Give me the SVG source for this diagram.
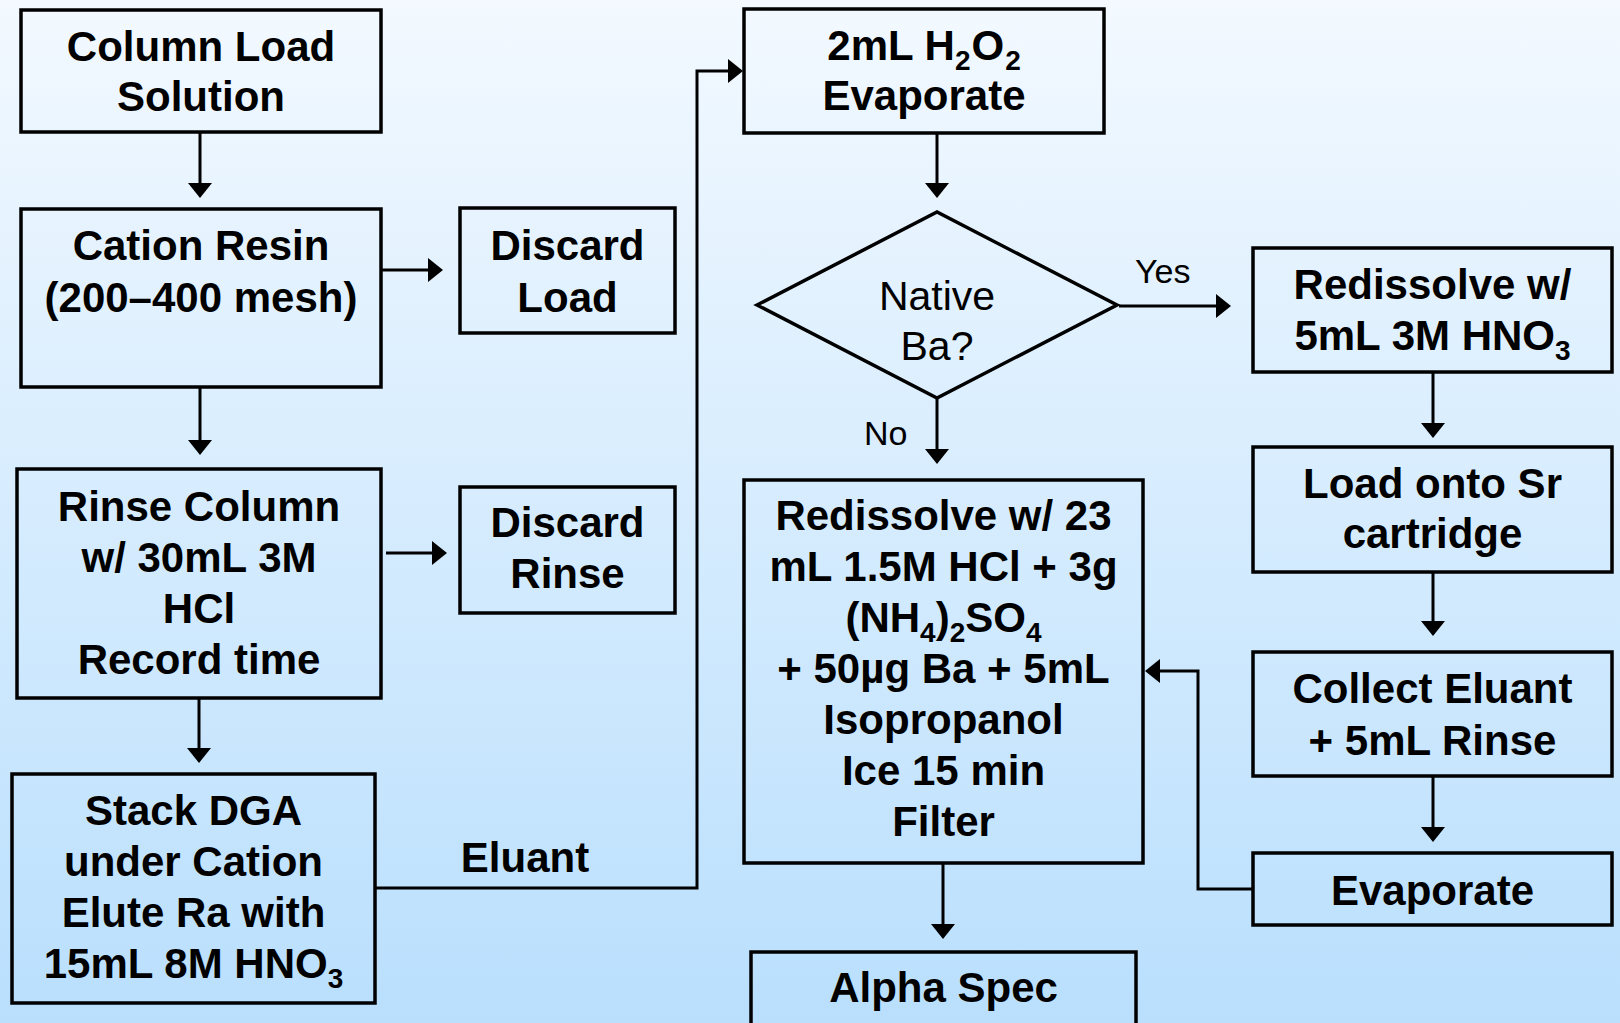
<svg xmlns="http://www.w3.org/2000/svg" width="1620" height="1023" viewBox="0 0 1620 1023">
  <defs>
    <linearGradient id="bg" x1="0" y1="0" x2="0" y2="1">
      <stop offset="0" stop-color="#f3f9ff"/>
      <stop offset="1" stop-color="#b9dffd"/>
    </linearGradient>
    <marker id="arr" markerUnits="userSpaceOnUse" markerWidth="16" markerHeight="26" refX="5" refY="12" orient="auto">
      <path d="M0,0 L15,12 L0,24 z" fill="#000"/>
    </marker>
    <style>
      .box { fill: none; stroke: #000; stroke-width: 3.5; }
      .t { font-family: "Liberation Sans", Arial, sans-serif; font-size: 42px; font-weight: bold; fill: #000; text-anchor: middle; }
      .n { font-family: "Liberation Sans", Arial, sans-serif; font-size: 41px; font-weight: normal; fill: #000; text-anchor: middle; }
      .s { font-family: "Liberation Sans", Arial, sans-serif; font-size: 34px; font-weight: normal; fill: #000; }
      .sub { font-size: 28px; }
      .c { fill: none; stroke: #000; stroke-width: 3; marker-end: url(#arr); }
    </style>
  </defs>
  <rect x="0" y="0" width="1620" height="1023" fill="url(#bg)"/>

  <g id="connectors">
    <line class="c" x1="200" y1="132" x2="200" y2="188"/>
    <line class="c" x1="381" y1="270" x2="433" y2="270"/>
    <line class="c" x1="200" y1="388" x2="200" y2="445"/>
    <line class="c" x1="386" y1="553" x2="437" y2="553"/>
    <line class="c" x1="199" y1="698" x2="199" y2="753"/>
    <path class="c" d="M375,888 H697 V71 H733"/>
    <line class="c" x1="937" y1="133" x2="937" y2="188"/>
    <line class="c" x1="937" y1="398" x2="937" y2="454"/>
    <line class="c" x1="1119" y1="306" x2="1221" y2="306"/>
    <line class="c" x1="1433" y1="372" x2="1433" y2="428"/>
    <line class="c" x1="1433" y1="572" x2="1433" y2="626"/>
    <line class="c" x1="1433" y1="776" x2="1433" y2="832"/>
    <path class="c" d="M1253,889 H1198 V671 H1155"/>
    <line class="c" x1="943" y1="863" x2="943" y2="929"/>
    <text class="t" x="525" y="872">Eluant</text>
    <text class="s" x="1135" y="283">Yes</text>
    <text class="s" x="864" y="445">No</text>
  </g>

  <g id="column-load">
    <rect class="box" x="21" y="10" width="360" height="122"/>
    <text class="t" x="201" y="61">Column Load</text>
    <text class="t" x="201" y="111">Solution</text>
  </g>

  <g id="cation-resin">
    <rect class="box" x="21" y="209" width="360" height="178"/>
    <text class="t" x="201" y="260">Cation Resin</text>
    <text class="t" x="201" y="312">(200–400 mesh)</text>
  </g>

  <g id="discard-load">
    <rect class="box" x="460" y="208" width="215" height="125"/>
    <text class="t" x="567.5" y="260">Discard</text>
    <text class="t" x="567.5" y="312">Load</text>
  </g>

  <g id="rinse-column">
    <rect class="box" x="17" y="469" width="364" height="229"/>
    <text class="t" x="199" y="521">Rinse Column</text>
    <text class="t" x="199" y="572">w/ 30mL 3M</text>
    <text class="t" x="199" y="623">HCl</text>
    <text class="t" x="199" y="674">Record time</text>
  </g>

  <g id="discard-rinse">
    <rect class="box" x="460" y="487" width="215" height="126"/>
    <text class="t" x="567.5" y="537">Discard</text>
    <text class="t" x="567.5" y="588">Rinse</text>
  </g>

  <g id="stack-dga">
    <rect class="box" x="12" y="774" width="363" height="229"/>
    <text class="t" x="193.5" y="825">Stack DGA</text>
    <text class="t" x="193.5" y="876">under Cation</text>
    <text class="t" x="193.5" y="927">Elute Ra with</text>
    <text class="t" x="193.5" y="978">15mL 8M HNO<tspan class="sub" dy="10">3</tspan></text>
  </g>

  <g id="h2o2-evaporate">
    <rect class="box" x="744" y="9" width="360" height="124"/>
    <text class="t" x="924" y="60">2mL H<tspan class="sub" dy="10">2</tspan><tspan dx="1" dy="-10">O</tspan><tspan class="sub" dx="1" dy="10">2</tspan></text>
    <text class="t" x="924" y="110">Evaporate</text>
  </g>

  <g id="native-ba">
    <polygon class="box" points="757,305 937,212 1117,305 937,398"/>
    <text class="n" x="937" y="310">Native</text>
    <text class="n" x="937" y="360">Ba?</text>
  </g>

  <g id="redissolve-hcl">
    <rect class="box" x="744" y="480" width="399" height="383"/>
    <text class="t" x="943.5" y="530">Redissolve w/ 23</text>
    <text class="t" x="943.5" y="581">mL 1.5M HCl + 3g</text>
    <text class="t" x="943.5" y="632">(NH<tspan class="sub" dy="10">4</tspan><tspan dy="-10">)</tspan><tspan class="sub" dy="10">2</tspan><tspan dy="-10">SO</tspan><tspan class="sub" dy="10">4</tspan></text>
    <text class="t" x="943.5" y="683">+ 50µg Ba + 5mL</text>
    <text class="t" x="943.5" y="734">Isopropanol</text>
    <text class="t" x="943.5" y="785">Ice 15 min</text>
    <text class="t" x="943.5" y="836">Filter</text>
  </g>

  <g id="alpha-spec">
    <rect class="box" x="751" y="952" width="385" height="90"/>
    <text class="t" x="943.5" y="1002">Alpha Spec</text>
  </g>

  <g id="redissolve-hno3">
    <rect class="box" x="1253" y="248" width="359" height="124"/>
    <text class="t" x="1432.5" y="299">Redissolve w/</text>
    <text class="t" x="1432.5" y="350">5mL 3M HNO<tspan class="sub" dy="10">3</tspan></text>
  </g>

  <g id="load-sr">
    <rect class="box" x="1253" y="447" width="359" height="125"/>
    <text class="t" x="1432.5" y="498">Load onto Sr</text>
    <text class="t" x="1432.5" y="548">cartridge</text>
  </g>

  <g id="collect-eluant">
    <rect class="box" x="1253" y="652" width="359" height="124"/>
    <text class="t" x="1432.5" y="703">Collect Eluant</text>
    <text class="t" x="1432.5" y="755">+ 5mL Rinse</text>
  </g>

  <g id="evaporate">
    <rect class="box" x="1253" y="853" width="359" height="72"/>
    <text class="t" x="1432.5" y="905">Evaporate</text>
  </g>
</svg>
